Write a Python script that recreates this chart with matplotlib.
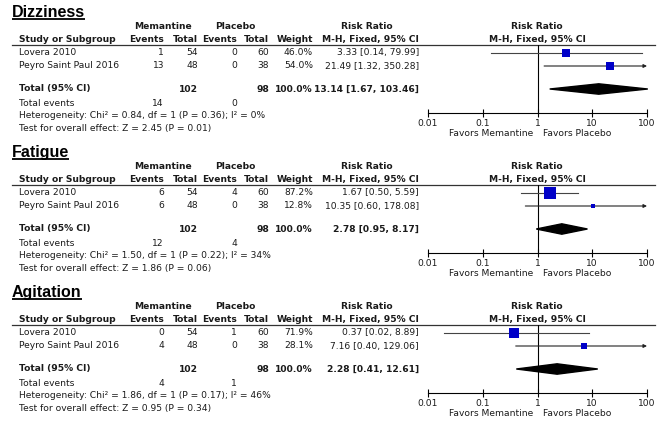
import matplotlib
matplotlib.use('Agg')
import matplotlib.pyplot as plt
from matplotlib.patches import Polygon
from matplotlib.ticker import NullLocator

# data
outcomes = ["Dizziness", "Fatigue", "Agitation"]
studies = ["Lovera 2010", "Peyro Saint Paul 2016"]
mem_total = [54, 48]
pla_total = [60, 38]
mem_events = [[1, 13], [6, 6], [0, 4]]
pla_events = [[0, 0], [4, 0], [1, 0]]
weights = [[46.0, 54.0], [87.2, 12.8], [71.9, 28.1]]
rr = [[3.33, 21.49], [1.67, 10.35], [0.37, 7.16]]
rr_lo = [[0.14, 1.32], [0.50, 0.60], [0.02, 0.40]]
rr_hi = [[79.99, 350.28], [5.59, 178.08], [8.89, 129.06]]
tot_rr = [13.14, 2.78, 2.28]
tot_lo = [1.67, 0.95, 0.41]
tot_hi = [103.46, 8.17, 12.61]
chi2 = [0.84, 1.50, 1.86]
het_p = [0.36, 0.22, 0.17]
i2 = [0, 34, 46]
z_val = [2.45, 1.86, 0.95]
z_p = [0.01, 0.06, 0.34]
ticks = [0.01, 0.1, 1, 10, 100]
tick_labels = ["0.01", "0.1", "1", "10", "100"]

W, H = 669, 421
FS = 6.6
TXT = '#1a1a1a'
BLUE = '#0000c8'

fig = plt.figure(figsize=(W / 100, H / 100), dpi=100)
cv = fig.add_axes([0, 0, 1, 1])
cv.set_xlim(0, W)
cv.set_ylim(H, 0)
cv.axis('off')


def t(x, y, s, ha='left', bold=False):
    cv.text(x, y, s, ha=ha, va='center', fontsize=FS, color=TXT,
            fontweight='bold' if bold else 'normal', family='DejaVu Sans')


titles = []
for i, name in enumerate(outcomes):
    o = 140 * i
    titles.append(cv.text(12, 17.2 + o, name, ha='left', va='baseline', fontsize=11.5,
                          fontweight='bold', family='Liberation Sans', color='black'))

    # header
    t(163, 26.5 + o, "Memantine", ha='center', bold=True)
    t(235, 26.5 + o, "Placebo", ha='center', bold=True)
    t(367, 26.5 + o, "Risk Ratio", ha='center', bold=True)
    t(537, 26.5 + o, "Risk Ratio", ha='center', bold=True)
    t(19, 39.5 + o, "Study or Subgroup", bold=True)
    t(164, 39.5 + o, "Events", ha='right', bold=True)
    t(198, 39.5 + o, "Total", ha='right', bold=True)
    t(237, 39.5 + o, "Events", ha='right', bold=True)
    t(269, 39.5 + o, "Total", ha='right', bold=True)
    t(313, 39.5 + o, "Weight", ha='right', bold=True)
    t(419, 39.5 + o, "M-H, Fixed, 95% CI", ha='right', bold=True)
    t(537, 39.5 + o, "M-H, Fixed, 95% CI", ha='center', bold=True)
    cv.plot([12, 655], [44.5 + o] * 2, color='#333333', lw=0.9)

    # study rows
    row_y = [52.5, 66]
    for j, st in enumerate(studies):
        y = row_y[j] + o
        t(19, y, st)
        t(164, y, str(mem_events[i][j]), ha='right')
        t(198, y, str(mem_total[j]), ha='right')
        t(237, y, str(pla_events[i][j]), ha='right')
        t(269, y, str(pla_total[j]), ha='right')
        t(313, y, f"{weights[i][j]:.1f}%", ha='right')
        t(419, y, f"{rr[i][j]:.2f} [{rr_lo[i][j]:.2f}, {rr_hi[i][j]:.2f}]", ha='right')

    # totals
    y = 89 + o
    t(19, y, "Total (95% CI)", bold=True)
    t(198, y, str(sum(mem_total)), ha='right', bold=True)
    t(269, y, str(sum(pla_total)), ha='right', bold=True)
    t(313, y, f"{sum(weights[i]):.1f}%", ha='right', bold=True)
    t(419, y, f"{tot_rr[i]:.2f} [{tot_lo[i]:.2f}, {tot_hi[i]:.2f}]", ha='right', bold=True)
    t(19, 103 + o, "Total events")
    t(164, 103 + o, str(sum(mem_events[i])), ha='right')
    t(237, 103 + o, str(sum(pla_events[i])), ha='right')
    t(19, 116 + o, f"Heterogeneity: Chi\u00b2 = {chi2[i]:.2f}, df = 1 (P = {het_p[i]:.2f}); I\u00b2 = {i2[i]}%")
    t(19, 128.5 + o, f"Test for overall effect: Z = {z_val[i]:.2f} (P = {z_p[i]:.2f})")
    t(533, 133 + o, "Favors Memantine", ha='right')
    t(543, 133 + o, "Favors Placebo", ha='left')

    # forest plot
    ax = fig.add_axes([428 / W, 1 - (113 + o) / H, 219 / W, 68.5 / H])
    ax.patch.set_alpha(0)
    ax.set_xscale('log')
    ax.set_xlim(0.01, 100)
    ax.set_ylim(113, 44.5)
    for s in ['top', 'left', 'right']:
        ax.spines[s].set_visible(False)
    ax.spines['bottom'].set_linewidth(0.8)
    ax.set_yticks([])
    ax.set_xticks(ticks)
    ax.set_xticklabels(tick_labels)
    ax.xaxis.set_minor_locator(NullLocator())
    ax.tick_params(axis='x', direction='inout', length=6, width=0.8, pad=1.2,
                   labelsize=FS, labelcolor=TXT)
    ax.axvline(1, color='black', lw=0.8)

    for j in range(len(studies)):
        y = row_y[j]
        lo = max(rr_lo[i][j], 0.01)
        hi = rr_hi[i][j]
        if hi > 100:
            ax.annotate('', xy=(100, y), xytext=(lo, y),
                        arrowprops=dict(arrowstyle='-|>', color='#222222', lw=0.8,
                                        mutation_scale=5, shrinkA=0, shrinkB=0))
        else:
            ax.plot([lo, hi], [y, y], color='#444444', lw=0.8)
        side = 1.5 + 0.125 * weights[i][j]
        ax.plot([rr[i][j]], [y], marker='s', ms=side * 0.72, color=BLUE, mew=0, zorder=3)

    yd = 89
    dia = Polygon([(tot_lo[i], yd), (tot_rr[i], yd - 5.2), (tot_hi[i], yd), (tot_rr[i], yd + 5.2)],
                  closed=True, color='black', clip_on=False, zorder=3)
    ax.add_patch(dia)

# underline titles
fig.canvas.draw()
r = fig.canvas.get_renderer()
for tt in titles:
    bb = tt.get_window_extent(renderer=r)
    x0, x1 = bb.x0, bb.x1
    y_ul = tt.get_position()[1] + 1.5
    cv.plot([x0, x1], [y_ul, y_ul], color='black', lw=1.3, solid_capstyle='butt')

fig.savefig('out.png', dpi=100)
